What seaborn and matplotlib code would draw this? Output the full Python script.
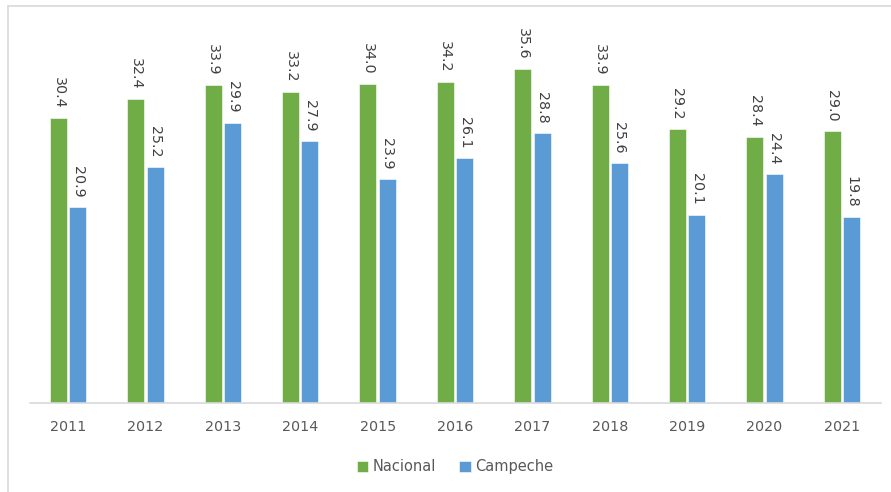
import pandas as pd
import matplotlib.pyplot as plt
import seaborn as sns
from matplotlib.lines import Line2D

# data
years = ['2011', '2012', '2013', '2014', '2015', '2016', '2017', '2018', '2019', '2020', '2021']
nacional = [30.4, 32.4, 33.9, 33.2, 34.0, 34.2, 35.6, 33.9, 29.2, 28.4, 29.0]
campeche = [20.9, 25.2, 29.9, 27.9, 23.9, 26.1, 28.8, 25.6, 20.1, 24.4, 19.8]

df = pd.DataFrame({
    'year': years * 2,
    'valor': nacional + campeche,
    'serie': ['Nacional'] * len(years) + ['Campeche'] * len(years),
})

sns.set_style("white")
plt.rcParams['font.family'] = ['DejaVu Sans']

fig = plt.figure(figsize=(8.91, 4.92), dpi=100)
ax = fig.add_axes([29.5 / 891, 89 / 492, 851 / 891, 375 / 492])

colors = {'Nacional': '#70AD47', 'Campeche': '#5B9BD5'}
sns.barplot(df, x='year', y='valor', hue='serie', palette=colors, saturation=1,
            width=0.5, gap=0.12, ax=ax, legend=True,
            edgecolor='white', linewidth=0.4)

# value labels, rotated
for cont in ax.containers:
    for bar in cont:
        h = bar.get_height()
        ax.annotate(f'{h:.1f}', (bar.get_x() + bar.get_width() / 2, h),
                    xytext=(0, 7), textcoords='offset points',
                    ha='center', va='bottom', rotation=270,
                    fontsize=10.3, color='#404040')

ax.set_xlim(-0.5, 10.5)
ax.set_ylim(0, 40)
ax.set_xlabel(None)
ax.set_ylabel(None)
ax.set_yticks([])
for s in ['top', 'right', 'left']:
    ax.spines[s].set_visible(False)
ax.spines['bottom'].set_color('#D9D9D9')
ax.spines['bottom'].set_linewidth(1.2)
ax.tick_params(axis='x', length=0, pad=12, labelsize=10.3, labelcolor='#595959')

ax.legend(loc='upper center', bbox_to_anchor=(0.5, -0.115), ncol=2, frameon=False,
          fontsize=10.5, labelcolor='#595959', handlelength=0.8, handleheight=0.8,
          handletextpad=0.3, columnspacing=1.6)

# light border around the chart area
fig.add_artist(Line2D([7.5 / 891, 7.5 / 891], [0, 1 - 6 / 492], color='#D9D9D9', lw=1.2))
fig.add_artist(Line2D([7.5 / 891, 1], [1 - 6 / 492, 1 - 6 / 492], color='#D9D9D9', lw=1.2))

plt.savefig('out.png', dpi=100)
